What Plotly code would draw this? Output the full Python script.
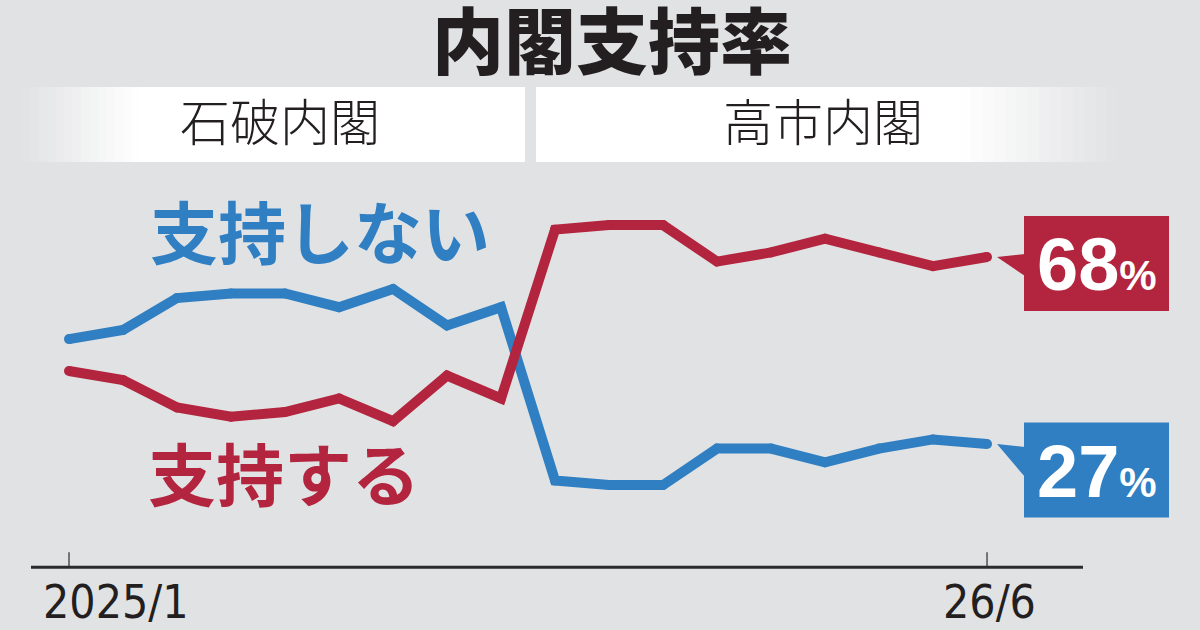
import plotly.graph_objects as go

# ---------------- data ----------------
months = ["2025/1", "2025/2", "2025/3", "2025/4", "2025/5", "2025/6",
          "2025/7", "2025/8", "2025/9", "2025/10", "2025/11", "2025/12",
          "2026/1", "2026/2", "2026/3", "2026/4", "2026/5", "2026/6"]
support = [43, 41, 35, 33, 34, 37, 32, 42, 37, 74, 75, 75, 67, 69, 72, 69, 66, 68]
nonsupport = [50, 52, 59, 60, 60, 57, 61, 53, 57, 19, 18, 18, 26, 26, 23, 26, 28, 27]
tick_index = [0, 17]
tick_labels = ["2025/1", "26/6"]
cabinets = ["石破内閣", "高市内閣"]
series_names = ["支持しない", "支持する"]
title_text = "内閣支持率"

# ---------------- style ----------------
W, H = 1200, 630
BG = "#e1e2e4"
BLUE = "#2f7fc2"
RED = "#b3253e"
INK = "#231f20"
JP = "Noto Sans CJK JP"
NARROW = "Liberation Sans Narrow, DejaVu Sans Condensed, Roboto Condensed, Liberation Sans"
X_RANGE = [-1.278, 20.944]
Y_RANGE = [-13.78, 124.35]


def y_to_py(y):
    return (Y_RANGE[1] - y) / (Y_RANGE[1] - Y_RANGE[0]) * H


def fx(px):
    return px / W


def fy(py):
    return 1 - py / H


def mix(c1, c2, t):
    a = [int(c1[i:i + 2], 16) for i in (1, 3, 5)]
    b = [int(c2[i:i + 2], 16) for i in (1, 3, 5)]
    return "#%02x%02x%02x" % tuple(round(a[k] + (b[k] - a[k]) * t) for k in range(3))


idx = list(range(len(months)))
fig = go.Figure()
fig.add_trace(go.Scatter(x=idx, y=nonsupport, mode="lines+markers",
                         line=dict(color=BLUE, width=10),
                         marker=dict(color=BLUE, size=10),
                         hoverinfo="skip", showlegend=False))
fig.add_trace(go.Scatter(x=idx, y=support, mode="lines+markers",
                         line=dict(color=RED, width=10),
                         marker=dict(color=RED, size=10),
                         hoverinfo="skip", showlegend=False))

shapes = []
annotations = []

# ---- cabinet bands ----
BAND_TOP, BAND_BOT = 87, 162
N = 14


def rect(x0, x1, y0, y1, color):
    return dict(type="rect", xref="paper", yref="paper", x0=fx(x0), x1=fx(x1),
                y0=fy(y1), y1=fy(y0), fillcolor=color, line=dict(width=0), layer="below")


# left band: gradient from left
g0, g1 = 22, 140
for i in range(N):
    a = g0 + (g1 - g0) * i / N
    b = g0 + (g1 - g0) * (i + 1) / N + 0.6
    shapes.append(rect(a, b, BAND_TOP, BAND_BOT, mix(BG, "#ffffff", (i + 0.5) / N)))
shapes.append(rect(g1, 525, BAND_TOP, BAND_BOT, "#ffffff"))
# right band: gradient to right
g0, g1 = 960, 1118
shapes.append(rect(536, g0 + 0.5, BAND_TOP, BAND_BOT, "#ffffff"))
for i in range(N):
    a = g0 + (g1 - g0) * i / N
    b = g0 + (g1 - g0) * (i + 1) / N + 0.6
    shapes.append(rect(a, b, BAND_TOP, BAND_BOT, mix("#ffffff", BG, (i + 0.5) / N)))

for label, cx in zip(cabinets, [280, 823]):
    annotations.append(dict(text=label, x=fx(cx), y=fy(119), xref="paper", yref="paper",
                            xanchor="center", yanchor="middle", showarrow=False,
                            font=dict(family=JP, size=50, color=INK, weight=300)))

# ---- title ----
annotations.append(dict(text=title_text, x=fx(612), y=fy(36), xref="paper", yref="paper",
                        xanchor="center", yanchor="middle", showarrow=False,
                        font=dict(family=JP, size=72, color=INK, weight=900)))

# ---- series labels ----
annotations.append(dict(text=series_names[0], x=fx(320), y=fy(229), xref="paper", yref="paper",
                        xanchor="center", yanchor="middle", showarrow=False,
                        font=dict(family=JP, size=68, color=BLUE, weight=700)))
annotations.append(dict(text=series_names[1], x=fx(284), y=fy(471), xref="paper", yref="paper",
                        xanchor="center", yanchor="middle", showarrow=False,
                        font=dict(family=JP, size=68, color=RED, weight=700)))

# ---- axis line and ticks ----
AXIS_PY = y_to_py(0)
shapes.append(dict(type="line", xref="paper", yref="paper", x0=fx(31), x1=fx(1083),
                   y0=fy(AXIS_PY), y1=fy(AXIS_PY), line=dict(color="#2b2b2b", width=3)))
for ti in tick_index:
    shapes.append(dict(type="line", xref="x", yref="paper", x0=ti, x1=ti,
                       y0=fy(AXIS_PY), y1=fy(AXIS_PY - 15), line=dict(color="#2b2b2b", width=1.2)))
annotations.append(dict(text=tick_labels[0], x=tick_index[0], y=fy(602), xref="x", yref="paper",
                        xanchor="left", xshift=-28, yanchor="middle", showarrow=False,
                        font=dict(family=NARROW, size=46, color=INK)))
annotations.append(dict(text=tick_labels[1], x=tick_index[1], y=fy(602), xref="x", yref="paper",
                        xanchor="center", xshift=2, yanchor="middle", showarrow=False,
                        font=dict(family=NARROW, size=46, color=INK)))

# ---- end-value callouts ----
callouts = [(support[-1], RED, 6.5, (-3, 19)), (nonsupport[-1], BLUE, 26, (3, 33))]
for val, col, off, (b0, b1) in callouts:
    py = y_to_py(val)
    cy = py + off
    shapes.append(dict(type="rect", xref="paper", yref="paper", x0=fx(1024), x1=fx(1169),
                       y0=fy(cy + 47.5), y1=fy(cy - 47.5), fillcolor=col, line=dict(width=0)))
    path = "M %f %f L %f %f L %f %f Z" % (fx(997), fy(py), fx(1025), fy(py + b0), fx(1025), fy(py + b1))
    shapes.append(dict(type="path", xref="paper", yref="paper", path=path,
                       fillcolor=col, line=dict(width=0)))
    annotations.append(dict(text="%d<span style='font-size:42px'>%%</span>" % val,
                            x=fx(1097), y=fy(cy + 1), xref="paper", yref="paper",
                            xanchor="center", yanchor="middle", showarrow=False,
                            font=dict(family="Liberation Sans", size=74, color="#ffffff", weight=700)))

fig.update_layout(
    width=W, height=H,
    margin=dict(l=0, r=0, t=0, b=0),
    paper_bgcolor=BG, plot_bgcolor=BG,
    xaxis=dict(range=X_RANGE, visible=False, fixedrange=True),
    yaxis=dict(range=Y_RANGE, visible=False, fixedrange=True),
    shapes=shapes, annotations=annotations,
)
fig.write_html("out.html", config={"displayModeBar": False},
               post_script="document.body.style.margin='0';document.body.style.overflow='hidden';document.body.style.background='%s';" % BG)
